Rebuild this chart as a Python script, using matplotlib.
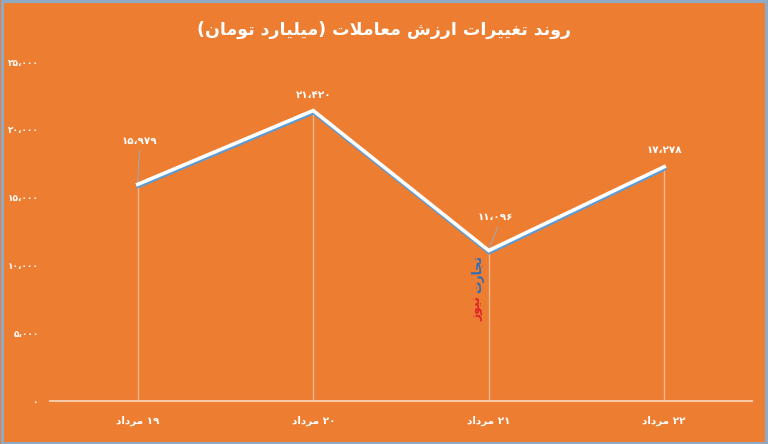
"""Line chart of daily trade value (Persian labels) on an orange background."""

import unicodedata

import matplotlib

matplotlib.use("Agg")
import matplotlib.pyplot as plt
import matplotlib.patheffects as pe
from matplotlib.patches import Rectangle

TITLE = "روند تغییرات ارزش معاملات (میلیارد تومان)"
DAYS = ["۱۹ مرداد", "۲۰ مرداد", "۲۱ مرداد", "۲۲ مرداد"]
VALUES = [15979, 21420, 11096, 17278]
VALUE_LABELS = ["۱۵،۹۷۹", "۲۱،۴۲۰", "۱۱،۰۹۶", "۱۷،۲۷۸"]
Y_TICKS = [0, 5000, 10000, 15000, 20000, 25000]
Y_TICK_LABELS = ["۰", "۵،۰۰۰", "۱۰،۰۰۰", "۱۵،۰۰۰", "۲۰،۰۰۰", "۲۵،۰۰۰"]
WATERMARK_A = "تجارت"
WATERMARK_B = "نیوز"

BG_COLOR = "#ED7D31"
BORDER_COLOR = "#8FAAC6"
AXIS_COLOR = "#F8C9A6"
DROP_COLOR = "#F5B88E"
SHADOW_COLOR = "#5B9BD5"

RIGHT_JOINING = set("اآأإدذرزژوؤة")
DIGITS = set("۰۱۲۳۴۵۶۷۸۹0123456789،")
MIRROR = {"(": ")", ")": "("}


def is_arabic_letter(ch):
    return "ARABIC LETTER" in unicodedata.name(ch, "")


def form_of(ch, form):
    try:
        return unicodedata.lookup(unicodedata.name(ch) + " " + form + " FORM")
    except KeyError:
        return ch


def shape(word):
    """Pick contextual presentation forms for Arabic letters (logical order)."""
    out = []
    i = 0
    while i < len(word):
        ch = word[i]
        if not is_arabic_letter(ch):
            out.append(ch)
            i += 1
            continue
        prev = word[i - 1] if i > 0 else ""
        joins_prev = bool(prev) and is_arabic_letter(prev) and prev not in RIGHT_JOINING
        if ch == "ل" and i + 1 < len(word) and word[i + 1] == "ا":
            name = "ARABIC LIGATURE LAM WITH ALEF " + ("FINAL" if joins_prev else "ISOLATED") + " FORM"
            out.append(unicodedata.lookup(name))
            i += 2
            continue
        nxt = word[i + 1] if i + 1 < len(word) else ""
        joins_next = ch not in RIGHT_JOINING and bool(nxt) and is_arabic_letter(nxt)
        if joins_prev and joins_next:
            out.append(form_of(ch, "MEDIAL"))
        elif joins_prev:
            out.append(form_of(ch, "FINAL"))
        elif joins_next:
            out.append(form_of(ch, "INITIAL"))
        else:
            out.append(form_of(ch, "ISOLATED"))
        i += 1
    return "".join(out)


def rtl(text):
    """Shape text and put it in visual (left-to-right) order, keeping numbers intact."""
    shaped = shape(text)
    runs = []
    for ch in shaped:
        is_num = ch in DIGITS
        if runs and runs[-1][0] == is_num:
            runs[-1][1].append(ch)
        else:
            runs.append((is_num, [ch]))
    parts = []
    for is_num, chars in reversed(runs):
        if is_num:
            parts.append("".join(chars))
        else:
            parts.append("".join(MIRROR.get(c, c) for c in reversed(chars)))
    return "".join(parts)


plt.rcParams["font.family"] = ["DejaVu Sans"]

fig = plt.figure(figsize=(7.68, 4.44), dpi=100)
fig.patch.set_facecolor(BG_COLOR)
fig.patches.append(
    Rectangle((0.002, 0.003), 0.996, 0.994, transform=fig.transFigure,
              fill=False, edgecolor=BORDER_COLOR, linewidth=2.2)
)

ax = fig.add_axes([50 / 768, 43 / 444, 702 / 768, 339 / 444])
ax.set_facecolor(BG_COLOR)
ax.set_xlim(-0.5, 3.5)
ax.set_ylim(0, 25000)
x = list(range(len(VALUES)))

for xi, v in zip(x, VALUES):
    ax.plot([xi, xi], [0, v], color=DROP_COLOR, linewidth=1.0, zorder=1)

ax.plot(
    x, VALUES, color="white", linewidth=2.6, solid_joinstyle="miter", zorder=3,
    path_effects=[pe.SimpleLineShadow(offset=(0.3, -1.5), shadow_color=SHADOW_COLOR,
                                      alpha=1.0, rho=1.0),
                  pe.Normal()],
)

label_offsets = [(0.01, 3200), (0, 1150), (0.04, 2500), (0, 1200)]
for xi, v, lab, (dx, dy) in zip(x, VALUES, VALUE_LABELS, label_offsets):
    ax.text(xi + dx, v + dy, lab, ha="center", va="center", color="white",
            fontsize=7.5, fontweight="bold", zorder=4)
ax.plot([0.0, 0.01], [VALUES[0] + 150, VALUES[0] + 2500], color="#A6A6A6",
        linewidth=0.8, zorder=2)
ax.plot([2.0, 2.05], [VALUES[2] + 100, VALUES[2] + 1700], color="#A6A6A6",
        linewidth=0.8, zorder=2)

ax.set_yticks(Y_TICKS)
ax.set_yticklabels(Y_TICK_LABELS)
ax.set_xticks(x)
ax.set_xticklabels([rtl(d) for d in DAYS])
ax.tick_params(axis="both", length=0, colors="white")
ax.tick_params(axis="y", pad=8, labelsize=6.5)
ax.tick_params(axis="x", pad=11, labelsize=7.5)
for lab in ax.get_xticklabels() + ax.get_yticklabels():
    lab.set_fontweight("bold")

for side in ["left", "right", "top"]:
    ax.spines[side].set_visible(False)
ax.spines["bottom"].set_color(AXIS_COLOR)
ax.spines["bottom"].set_linewidth(1.5)

fig.text(0.5, 1 - 30 / 444, rtl(TITLE), ha="center", va="center", color="white",
         fontsize=12.5, fontweight="bold")

ax.text(1.935, 10750, rtl(WATERMARK_A), rotation=90, ha="center", va="top",
        color="#2F6EBA", fontsize=9, fontweight="bold", zorder=4)
ax.text(1.935, 7750, rtl(WATERMARK_B), rotation=90, ha="center", va="top",
        color="#E0262B", fontsize=9, fontweight="bold", zorder=4)

fig.savefig("out.png", dpi=100, facecolor=BG_COLOR)
